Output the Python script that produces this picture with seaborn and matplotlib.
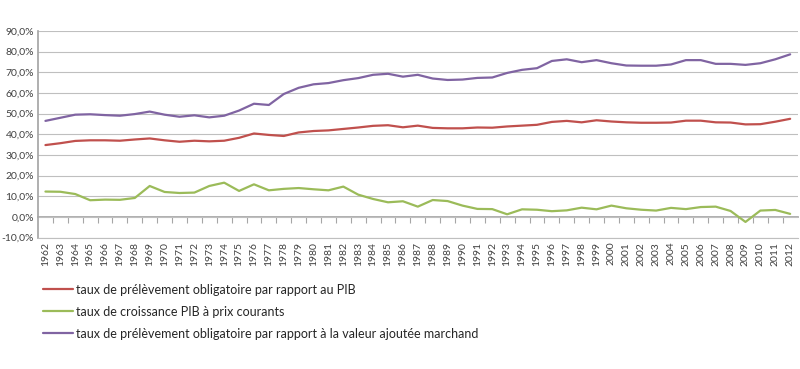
import numpy as np
import pandas as pd
import matplotlib
matplotlib.use("Agg")
import matplotlib.pyplot as plt
import seaborn as sns
from matplotlib.ticker import FuncFormatter, FixedLocator

years = list(range(1962, 2013))

po_pib = [34.8, 35.7, 36.8, 37.1, 37.1, 36.9, 37.5, 38.0, 37.1, 36.4,
          36.9, 36.6, 36.9, 38.3, 40.4, 39.7, 39.2, 40.9, 41.6, 41.9,
          42.6, 43.3, 44.1, 44.4, 43.4, 44.2, 43.1, 42.9, 42.9, 43.3,
          43.2, 43.8, 44.2, 44.6, 46.0, 46.5, 45.8, 46.8, 46.2, 45.8,
          45.6, 45.6, 45.7, 46.6, 46.6, 45.8, 45.7, 44.8, 44.9, 46.1,
          47.5]

croissance_pib = [12.3, 12.2, 11.1, 8.1, 8.4, 8.3, 9.2, 15.0, 12.1, 11.6,
                  11.8, 15.0, 16.6, 12.6, 15.8, 12.9, 13.6, 14.0, 13.4, 12.9,
                  14.7, 10.8, 8.7, 7.1, 7.6, 5.0, 8.2, 7.7, 5.5, 3.9,
                  3.8, 1.3, 3.7, 3.5, 2.8, 3.2, 4.5, 3.7, 5.5, 4.2,
                  3.5, 3.1, 4.4, 3.8, 4.8, 5.0, 2.9, -2.4, 3.1, 3.4,
                  1.5]

po_va_marchand = [46.5, 48.0, 49.5, 49.7, 49.3, 49.0, 49.8, 51.0, 49.5, 48.5,
                  49.2, 48.2, 49.0, 51.5, 54.8, 54.2, 59.5, 62.5, 64.2, 64.8,
                  66.2, 67.2, 68.8, 69.3, 67.9, 68.8, 67.0, 66.3, 66.5, 67.3,
                  67.5, 69.7, 71.2, 72.0, 75.5, 76.3, 74.9, 75.9, 74.4, 73.3,
                  73.2, 73.2, 73.8, 75.9, 75.9, 74.1, 74.1, 73.6, 74.4, 76.3,
                  78.7]

labels = [
    "taux de prélèvement obligatoire par rapport au PIB",
    "taux de croissance PIB à prix courants",
    "taux de prélèvement obligatoire par rapport à la valeur ajoutée marchand",
]
colors = ["#C0504D", "#9BBB59", "#8064A2"]

df = pd.concat([
    pd.DataFrame({"annee": years, "valeur": po_pib, "serie": labels[0]}),
    pd.DataFrame({"annee": years, "valeur": croissance_pib, "serie": labels[1]}),
    pd.DataFrame({"annee": years, "valeur": po_va_marchand, "serie": labels[2]}),
])

sns.set_theme(style="white")
plt.rcParams["font.family"] = ["Lato", "DejaVu Sans"]

fig, ax = plt.subplots(figsize=(8, 3.69), dpi=100)
fig.subplots_adjust(left=0.0475, right=0.997, top=0.916, bottom=0.356)

sns.lineplot(data=df, x="annee", y="valeur", hue="serie", hue_order=labels,
             palette=colors, linewidth=1.6, ax=ax, legend=True)

ax.set_xlim(years[0] - 0.5, years[-1] + 0.5)
ax.set_ylim(-10, 90)
ax.set_yticks(np.arange(-10, 91, 10))
ax.yaxis.set_major_formatter(FuncFormatter(lambda v, p: f"{v:.1f}%".replace(".", ",")))
ax.set_xticks(years)
ax.set_xticklabels([str(y) for y in years], rotation=90)
ax.tick_params(axis="both", labelsize=7.5, colors="#404040", length=0, pad=3)
ax.set_xlabel("")
ax.set_ylabel("")
ax.grid(axis="y", color="#BFBFBF", linewidth=0.8)
ax.set_axisbelow(True)

for side in ["top", "right"]:
    ax.spines[side].set_visible(False)
ax.spines["left"].set_color("#A6A6A6")
ax.spines["bottom"].set_color("#BFBFBF")
ax.spines["bottom"].set_linewidth(0.8)

# category axis drawn at 0 %, tick marks between years
zero_axis = ax.secondary_xaxis(0.1)
zero_axis.xaxis.set_major_locator(FixedLocator([y + 0.5 for y in years[:-1]]))
zero_axis.tick_params(length=4, width=0.8, color="#A6A6A6", labelbottom=False)
zero_axis.spines["bottom"].set_color("#A6A6A6")

handles, lbls = ax.get_legend_handles_labels()
ax.get_legend().remove()
fig.legend(handles, lbls, loc="upper left", bbox_to_anchor=(0.040, 0.262),
           frameon=False, fontsize=9, handlelength=2.4, handletextpad=0.25,
           labelspacing=0.8, labelcolor="#262626")

fig.savefig("out.png", dpi=100)
